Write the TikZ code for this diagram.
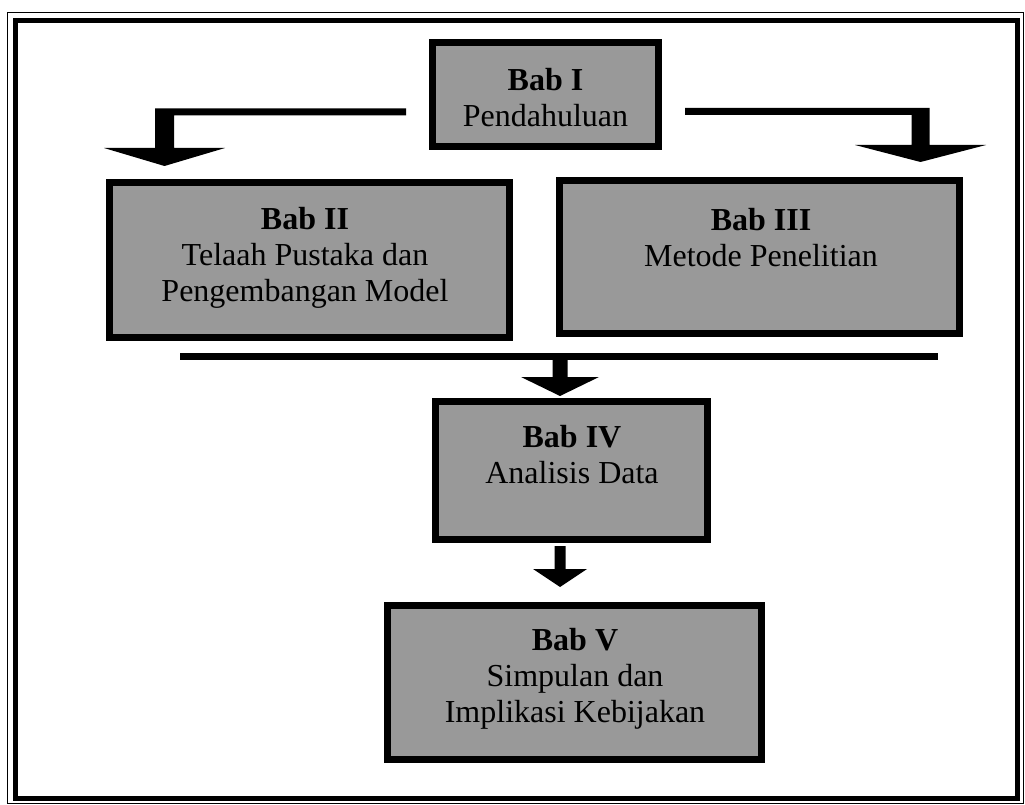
\documentclass[tikz,border=0pt]{standalone}
\usepackage{fontspec}
\setmainfont{Liberation Serif}
\usetikzlibrary{calc}
\begin{document}
\begin{tikzpicture}[x=1pt,y=-1pt,
  chapter/.style={rectangle, draw=black, line width=6pt, fill=black!40, inner sep=0pt},
  chaptertext/.style={font=\fontsize{32}{36}\selectfont, align=center, inner sep=0pt, text=black},
  inner rule/.style={line width=1.5pt},
  bus/.style={line width=7pt, line cap=butt},
  frame thin/.style={line width=1pt},
  frame thick/.style={line width=5pt}
]
\useasboundingbox (0,0) rectangle (1025,805);

% outer double frame
\draw[frame thin] (7,13) rectangle (1023,803.5);
\draw[frame thick] (15,21) rectangle (1017,798.5);

% chapter boxes
\node[chapter, minimum width=227pt, minimum height=105pt] (b1) at (545.5,94.5) {};
\node[chapter, minimum width=401pt, minimum height=156pt] (b2) at (309.5,260) {};
\node[chapter, minimum width=401pt, minimum height=154pt] (b3) at (759.5,257) {};
\node[chapter, minimum width=273pt, minimum height=139pt] (b4) at (571.5,470.5) {};
\node[chapter, minimum width=375pt, minimum height=155pt] (b5) at (574.5,682.5) {};

% thin inner rule of every box
\foreach \n in {b1,b2,b3,b4,b5}
  \draw[inner rule] ([shift={(6,6)}]\n.north west) rectangle ([shift={(-6,-6)}]\n.south east);

% box texts
\node[chaptertext] (t1) at (545.5,98) {\textbf{Bab I}\\Pendahuluan};
\node[chaptertext] (t2) at (305,258) {\textbf{Bab II}\\Telaah Pustaka dan\\Pengembangan Model};
\node[chaptertext] (t3) at (761,238) {\textbf{Bab III}\\Metode Penelitian};
\node[chaptertext] (t4) at (572,455) {\textbf{Bab IV}\\Analisis Data};
\node[chaptertext] (t5) at (575,679) {\textbf{Bab V}\\Simpulan dan\\Implikasi Kebijakan};

% Bab I -> Bab II (elbow arrow to the left)
\coordinate (ls) at ($(b1.west)+(-23,17.5)$);
\coordinate (lt) at ($(b2.north west)+(58.5,-13)$);
\fill ($(ls)+(0,-3.5)$) -- ($(ls -| lt)+(-9.5,-3.5)$) -- ($(lt)+(-9.5,-18)$)
  -- ($(lt)+(-60.5,-18)$) -- (lt) -- ($(lt)+(60.5,-18)$) -- ($(lt)+(9.5,-18)$)
  -- ($(ls -| lt)+(9.5,3.5)$) -- ($(ls)+(0,3.5)$) -- cycle;

% Bab I -> Bab III (elbow arrow to the right)
\coordinate (rs) at ($(b1.east)+(23,17)$);
\coordinate (rt) at ($(b3.north east)+(-42.5,-15)$);
\fill ($(rs)+(0,-3.5)$) -- ($(rs -| rt)+(9,-3.5)$) -- ($(rt)+(9,-17)$)
  -- ($(rt)+(65.5,-17)$) -- (rt) -- ($(rt)+(-65.5,-17)$) -- ($(rt)+(-9,-17)$)
  -- ($(rs -| rt)+(-9,3.5)$) -- ($(rs)+(0,3.5)$) -- cycle;

% Bab II and Bab III join on a bus that leads to Bab IV
\coordinate (busl) at ($(b2.south west)+(74,15)$);
\coordinate (busr) at ($(b3.south east)+(-25,19)$);
\draw[bus] (busl) -- (busr);
\coordinate (mt) at ($(b4.north)+(-11.5,-2)$);
\coordinate (ms) at (busl -| mt);
\fill ($(ms)+(-7.5,0)$) -- ($(mt)+(-7.5,-19)$) -- ($(mt)+(-39,-19)$) -- (mt)
  -- ($(mt)+(39,-19)$) -- ($(mt)+(7.5,-19)$) -- ($(ms)+(7.5,0)$) -- cycle;

% Bab IV -> Bab V
\coordinate (bs) at ($(b4.south)+(-11.5,3)$);
\coordinate (bt) at ($(b5.north)+(-14.5,-15)$);
\fill ($(bs)+(-5.5,0)$) -- ($(bt)+(-5.5,-18)$) -- ($(bt)+(-27,-18)$) -- (bt)
  -- ($(bt)+(27,-18)$) -- ($(bt)+(5.5,-18)$) -- ($(bs)+(5.5,0)$) -- cycle;
\end{tikzpicture}
\end{document}
